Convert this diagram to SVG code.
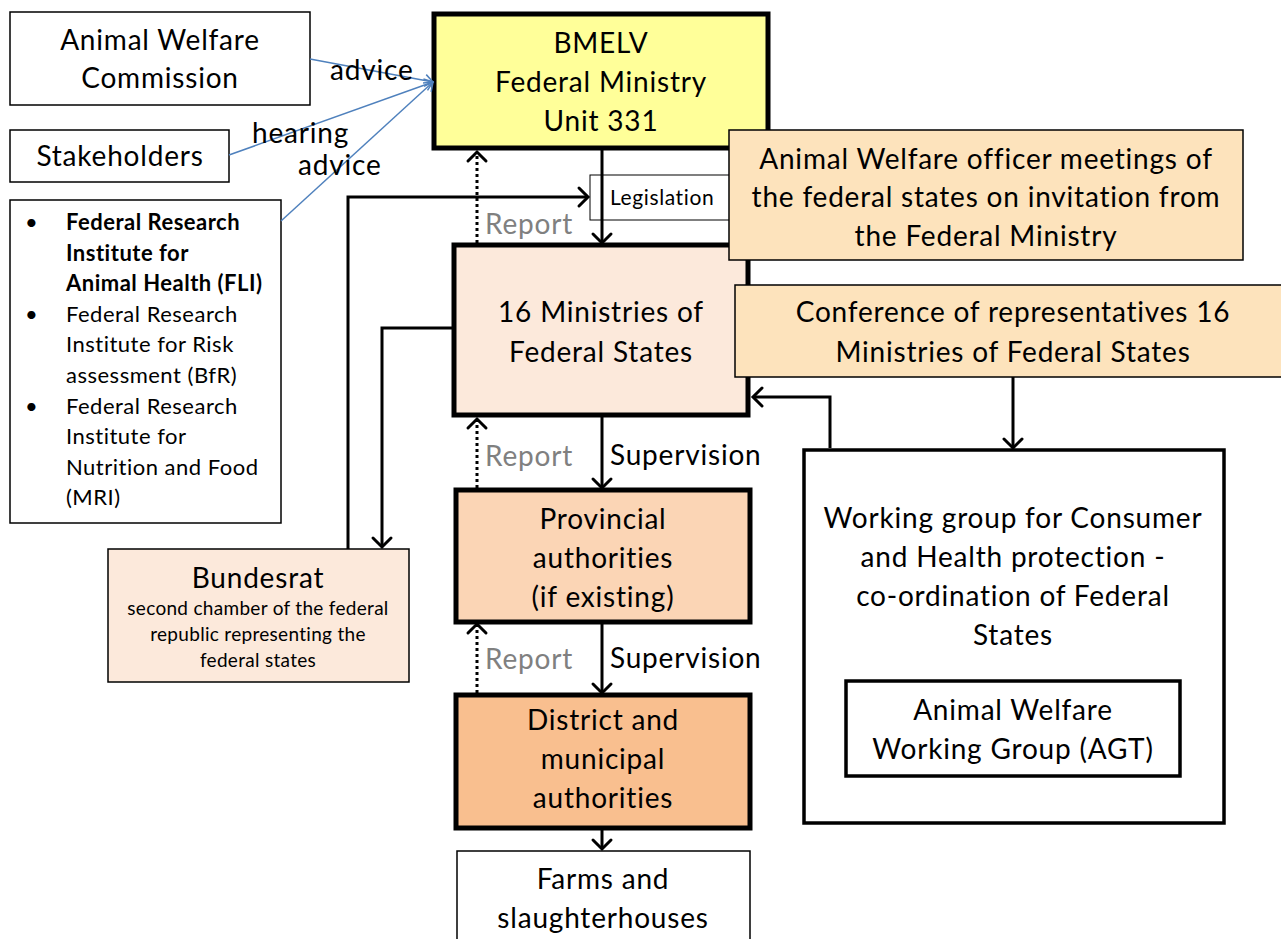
<svg xmlns="http://www.w3.org/2000/svg" width="1281" height="939" viewBox="0 0 1281 939">
<defs>
<marker id="chev" markerUnits="userSpaceOnUse" viewBox="-12 -12 24 24" refX="0" refY="0" markerWidth="24" markerHeight="24" orient="auto" overflow="visible">
<path d="M-9,-9 L0,0 L-9,9" fill="none" stroke="#000" stroke-width="3" stroke-linecap="round" stroke-linejoin="miter"/>
</marker>
<marker id="bchev" markerUnits="userSpaceOnUse" viewBox="-12 -12 24 24" refX="0" refY="0" markerWidth="24" markerHeight="24" orient="auto" overflow="visible">
<path d="M-8,-6 L0,0 L-8,6" fill="none" stroke="#4F81BD" stroke-width="1.5"/>
</marker>
</defs>
<style>
text{font-family:Lato,"Liberation Sans",sans-serif;fill:#000}
.t26{font-size:28px;letter-spacing:0.8px;text-anchor:middle}
.t20{font-size:22px;letter-spacing:0.5px}
.thin{stroke:#000;stroke-width:1.5}
.thick{stroke:#000;stroke-width:5}
.mid{stroke:#000;stroke-width:3.5}
.conn{fill:none;stroke:#000;stroke-width:3}
.dot{fill:none;stroke:#000;stroke-width:3;stroke-dasharray:3 3}
.blue{fill:none;stroke:#4F81BD;stroke-width:1.5}
.gray{fill:#808080;font-size:28px;letter-spacing:0.8px}
.lbl{font-size:28px;letter-spacing:0.8px}
.small{font-size:19px;letter-spacing:0.3px;text-anchor:middle}
</style>
<rect width="1281" height="939" fill="#fff"/>

<g id="commission">
<rect x="10" y="12" width="300" height="93" fill="#fff" class="thin"/>
<text class="t26" x="160" y="50">Animal Welfare</text>
<text class="t26" x="160" y="88">Commission</text>
</g>
<g id="stakeholders">
<rect x="10" y="130" width="219" height="52" fill="#fff" class="thin"/>
<text class="t26" x="120" y="166">Stakeholders</text>
</g>
<g id="institutes">
<rect x="10" y="200" width="271" height="323" fill="#fff" class="thin"/>
<g class="t20">
<text x="25" y="230">•</text>
<text x="66" y="230" font-weight="bold">Federal Research</text>
<text x="66" y="261" font-weight="bold">Institute for</text>
<text x="66" y="291" font-weight="bold">Animal Health (FLI)</text>
<text x="25" y="322">•</text>
<text x="66" y="322">Federal Research</text>
<text x="66" y="352">Institute for Risk</text>
<text x="66" y="383">assessment  (BfR)</text>
<text x="25" y="414">•</text>
<text x="66" y="414">Federal Research</text>
<text x="66" y="444">Institute for</text>
<text x="66" y="475">Nutrition and Food</text>
<text x="66" y="505">(MRI)</text>
</g>
</g>

<g id="legislation">
<rect x="590" y="175" width="150" height="45" fill="#fff" stroke="#000" stroke-width="1"/>
<text x="610" y="205" font-size="21" letter-spacing="0.6">Legislation</text>
</g>

<g id="bmelv">
<rect x="434" y="14" width="334" height="134" fill="#FFFF99" class="thick"/>
<text class="t26" x="601" y="53">BMELV</text>
<text class="t26" x="601" y="92">Federal Ministry</text>
<text class="t26" x="601" y="131">Unit 331</text>
</g>

<g id="ministries">
<rect x="454" y="245" width="294" height="170" fill="#FCE9DB" class="thick"/>
<text class="t26" x="601" y="322">16 Ministries of</text>
<text class="t26" x="601" y="362">Federal States</text>
</g>

<g id="officer">
<rect x="729" y="130" width="514" height="130" fill="#FDE3BC" stroke="#000" stroke-width="1.5"/>
<text class="t26" x="986" y="169">Animal Welfare officer meetings of</text>
<text class="t26" x="986" y="207">the federal states on invitation from</text>
<text class="t26" x="986" y="246">the Federal Ministry</text>
</g>

<g id="conference">
<rect x="735" y="285" width="550" height="92" fill="#FDE3BC" stroke="#000" stroke-width="1.5"/>
<text class="t26" x="1013" y="322">Conference of representatives 16</text>
<text class="t26" x="1013" y="362">Ministries of Federal States</text>
</g>

<g id="provincial">
<rect x="456" y="490" width="294" height="132" fill="#FBD5B5" class="thick"/>
<text class="t26" x="603" y="529">Provincial</text>
<text class="t26" x="603" y="568">authorities</text>
<text class="t26" x="603" y="607">(if existing)</text>
</g>

<g id="district">
<rect x="456" y="695" width="294" height="133" fill="#F9BF8F" class="thick"/>
<text class="t26" x="603" y="730">District and</text>
<text class="t26" x="603" y="769">municipal</text>
<text class="t26" x="603" y="808">authorities</text>
</g>

<g id="farms">
<rect x="457" y="851" width="293" height="100" fill="#fff" class="thin"/>
<text class="t26" x="603" y="889">Farms and</text>
<text class="t26" x="603" y="928">slaughterhouses</text>
</g>

<g id="bundesrat">
<rect x="108" y="549" width="301" height="133" fill="#FCE9DB" class="thin"/>
<text class="t26" x="258" y="588">Bundesrat</text>
<text class="small" x="258" y="615">second chamber of the federal</text>
<text class="small" x="258" y="641">republic representing the</text>
<text class="small" x="258" y="667">federal states</text>
</g>

<g id="workinggroup">
<rect x="804" y="450" width="420" height="373" fill="#fff" class="mid"/>
<text class="t26" x="1013" y="528">Working group for Consumer</text>
<text class="t26" x="1013" y="567">and Health protection -</text>
<text class="t26" x="1013" y="606">co-ordination of Federal</text>
<text class="t26" x="1013" y="645">States</text>
</g>
<g id="agt">
<rect x="846" y="681" width="334" height="95" fill="#fff" class="mid"/>
<text class="t26" x="1013" y="720">Animal Welfare</text>
<text class="t26" x="1013" y="759">Working Group (AGT)</text>
</g>

<g id="connectors">
<line class="conn" x1="602" y1="150" x2="602" y2="243" marker-end="url(#chev)"/>
<line class="dot" x1="477" y1="243" x2="477" y2="152" marker-end="url(#chev)"/>
<polyline class="conn" points="348,549 348,197 588,197" marker-end="url(#chev)"/>
<polyline class="conn" points="454,328 382,328 382,547" marker-end="url(#chev)"/>
<line class="conn" x1="602" y1="417" x2="602" y2="488" marker-end="url(#chev)"/>
<line class="dot" x1="477" y1="488" x2="477" y2="419" marker-end="url(#chev)"/>
<line class="conn" x1="602" y1="624" x2="602" y2="693" marker-end="url(#chev)"/>
<line class="dot" x1="477" y1="693" x2="477" y2="624" marker-end="url(#chev)"/>
<line class="conn" x1="602" y1="830" x2="602" y2="849" marker-end="url(#chev)"/>
<polyline class="conn" points="830,448 830,397 753,397" marker-end="url(#chev)"/>
<line class="conn" x1="1013" y1="377" x2="1013" y2="448" marker-end="url(#chev)"/>
<line class="blue" x1="310" y1="59" x2="433" y2="82" marker-end="url(#bchev)"/>
<line class="blue" x1="229" y1="155" x2="433" y2="82" marker-end="url(#bchev)"/>
<line class="blue" x1="281" y1="221" x2="433" y2="82" marker-end="url(#bchev)"/>
<text class="lbl" x="330" y="80">advice</text>
<text class="lbl" x="252" y="143">hearing</text>
<text class="lbl" x="298" y="175">advice</text>
<text class="gray" x="485" y="234">Report</text>
<text class="gray" x="485" y="466">Report</text>
<text class="gray" x="485" y="669">Report</text>
<text class="lbl" x="610" y="465">Supervision</text>
<text class="lbl" x="610" y="668">Supervision</text>
</g>
</svg>
